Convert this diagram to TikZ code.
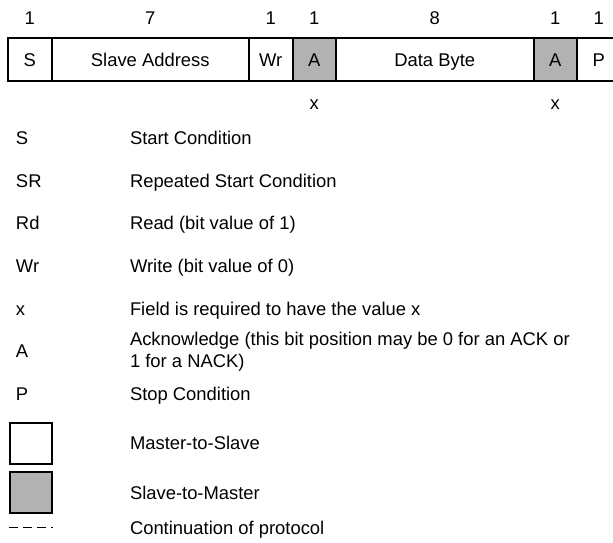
\documentclass[tikz,border=0pt]{standalone}
\usepackage{fontspec}
\setmainfont{Liberation Sans}
\usetikzlibrary{positioning}

\begin{document}
\begin{tikzpicture}[x=1pt, y=-1pt,
  every node/.style={font=\fontsize{18.4}{22}\selectfont, inner sep=0pt, outer sep=0pt},
  field/.style={draw, line width=2pt, minimum height=42.5pt, text height=13pt, text depth=0pt, anchor=west},
  onebit/.style={field, minimum width=43.5pt},
  bytefield/.style={field, minimum width=197.5pt},
  slavebit/.style={fill=black!30},
  sym/.style={anchor=base west},
  desc/.style={anchor=base west, align=left},
  keybox/.style={draw, line width=2pt, minimum width=41.5pt, minimum height=41pt}]
\useasboundingbox (0,0) rectangle (613,543);
% frame of one write
\node[onebit] (start) at (8,59.75) {S};
\node[bytefield] (addr) at (start.east) {Slave Address};
\node[onebit] (wr) at (addr.east) {Wr};
\node[onebit, slavebit] (ackA) at (wr.east) {A};
\node[bytefield] (data) at (ackA.east) {Data Byte};
\node[onebit, slavebit] (ackB) at (data.east) {A};
\node[onebit] (stop) at (ackB.east) {P};
% bit counts
\node[above=14pt of start] (nStart) {1};
\node[above=14pt of addr] (nAddr) {7};
\node[above=14pt of wr] (nWr) {1};
\node[above=14pt of ackA] (nAckA) {1};
\node[above=14pt of data] (nData) {8};
\node[above=14pt of ackB] (nAckB) {1};
\node[above=14pt of stop] (nStop) {1};
\node[below=19pt of ackA] (xAckA) {x};
\node[below=19pt of ackB] (xAckB) {x};
% legend
\node[sym] (kS) at (16,144.5) {S};
\node[desc] (dS) at (130,144.5) {Start Condition};
\node[sym] (kSR) at (16,187.2) {SR};
\node[desc] (dSR) at (130,187.2) {Repeated Start Condition};
\node[sym] (kRd) at (16,229.9) {Rd};
\node[desc] (dRd) at (130,229.9) {Read (bit value of 1)};
\node[sym] (kWr) at (16,272.6) {Wr};
\node[desc] (dWr) at (130,272.6) {Write (bit value of 0)};
\node[sym] (kx) at (16,315.3) {x};
\node[desc] (dx) at (130,315.3) {Field is required to have the value x};
\node[sym] (kA) at (16,357.5) {A};
\node[anchor=west, align=left] (dA) at (130,351.5) {Acknowledge (this bit position may be 0 for an ACK or\\1 for a NACK)};
\node[sym] (kP) at (16,400.5) {P};
\node[desc] (dP) at (130,400.5) {Stop Condition};
\node[keybox] (kMaster) at (31,443) {};
\node[desc] (dMaster) at (130,449.5) {Master-to-Slave};
\node[keybox, slavebit] (kSlave) at (31,492.5) {};
\node[desc] (dSlave) at (130,499) {Slave-to-Master};
\coordinate (contA) at (9,527);
\coordinate (contB) at (53,527);
\draw[line width=0.9pt, dash pattern=on 9pt off 5pt] (contA) -- (contB);
\node[desc] (dCont) at (130,534) {Continuation of protocol};
\end{tikzpicture}
\end{document}
